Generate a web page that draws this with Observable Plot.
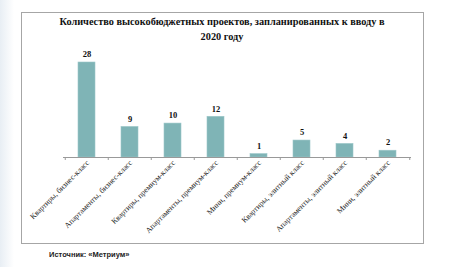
<!DOCTYPE html>
<html><head><meta charset="utf-8">
<script src="https://cdn.jsdelivr.net/npm/d3@7"></script>
<script src="https://cdn.jsdelivr.net/npm/@observablehq/plot@0.6"></script>
<style>
html,body{margin:0;padding:0;background:#fff;}
#wrap{position:relative;width:450px;height:267px;overflow:hidden;background:linear-gradient(90deg,#e8eef4 0px,#fff 14px);}
#box{position:absolute;left:21px;top:12px;width:401px;height:230px;border:1px solid #a6a6a6;background:#fff;}
#title{position:absolute;left:21px;top:14px;width:402px;text-align:center;font:bold 10.3px "Liberation Serif",serif;line-height:15px;color:#111;}
#chart{position:absolute;left:0;top:0;}
#source{position:absolute;left:49px;top:250px;font:bold 7.5px "Liberation Sans",Arial,sans-serif;color:#222;}
</style></head>
<body><div id="wrap"><div id="box"></div><div id="title">Количество высокобюджетных проектов, запланированных к вводу в<br>2020 году</div><div id="chart"></div><div id="source">Источник: «Метриум»</div></div>
<script>
const categories = ["Квартиры, бизнес-класс","Апартаменты, бизнес-класс","Квартиры, премиум-класс","Апартаменты, премиум-класс","Мини, премиум-класс","Квартиры, элитный класс","Апартаменты, элитный класс","Мини, элитный класс"];
const values = [28, 9, 10, 12, 1, 5, 4, 2];
const data = categories.map((c,i)=>({c, v: values[i]}));
const W=450,H=267,ML=63,MR=39;
const step=(W-ML-MR)/categories.length;
const chart = Plot.plot({
  width:W,height:H,marginLeft:ML,marginRight:MR,marginTop:62,marginBottom:110,
  style:{background:"transparent",fontFamily:"'Liberation Serif',serif",color:"#222"},
  x:{domain:categories,paddingInner:0.61,paddingOuter:0.305,label:null},
  y:{domain:[0,28],axis:null},
  marks:[
    Plot.barY(data,{x:"c",y:"v",fill:"#7fb4b6",stroke:"#9cc7c9",strokeWidth:0.6}),
    Plot.text(data,{x:"c",y:"v",text:d=>String(d.v),dy:-8,fontWeight:"bold",fontSize:8.5,fill:"#111"}),
    Plot.ruleY([0],{stroke:"#999",strokeWidth:1.2}),
    Plot.axisX({tickSize:3,tickFormat:()=>"",dx:-step/2,stroke:"#999"}),
    Plot.axisX({ticks:[categories[categories.length-1]],tickSize:3,tickFormat:()=>"",dx:step/2,stroke:"#999"}),
    Plot.axisX({tickSize:0,tickRotate:-45,tickPadding:4,fontSize:7.8,fill:"#222",dx:1,textAnchor:"end"})
  ]
});
document.getElementById("chart").appendChild(chart);
</script></body></html>
